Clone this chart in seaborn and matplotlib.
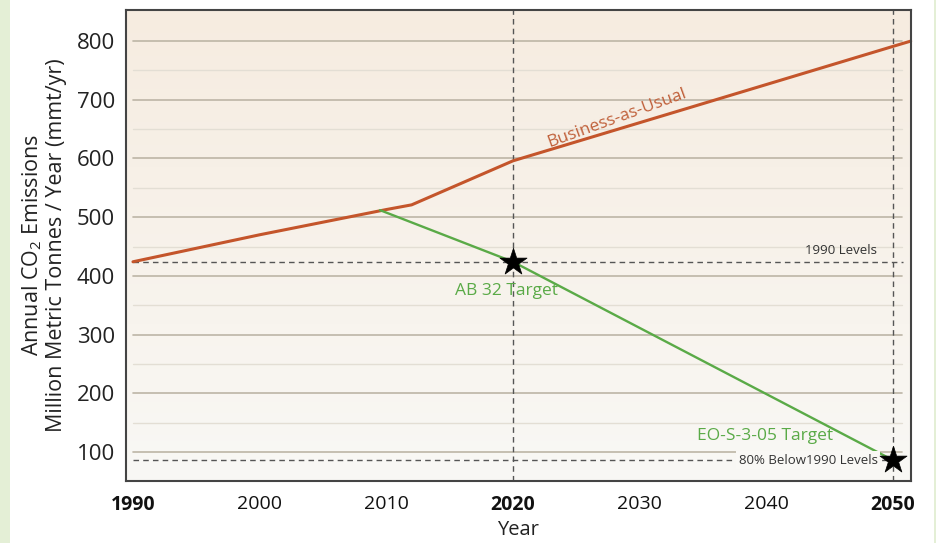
import numpy as np
import pandas as pd
import matplotlib
matplotlib.use("Agg")
import matplotlib.pyplot as plt
import matplotlib.patches as mpatches
import seaborn as sns

# ---- data ----
bau_years = [1990, 2000, 2010, 2012, 2020, 2050, 2051.4]
bau_values = [424, 470, 513, 521, 596, 791, 800]
target_years = [2009.5, 2020, 2050]
target_values = [512, 424, 86]
star_years = [2020, 2050]
star_values = [424, 86]
level_1990 = 424
level_80_below = 86
x_ticks = [1990, 2000, 2010, 2020, 2030, 2040, 2050]
bold_ticks = [1990, 2020, 2050]
y_ticks = [100, 200, 300, 400, 500, 600, 700, 800]
y_minor = [150, 250, 350, 450, 550, 650, 750]

sns.set_theme(style="white")
plt.rcParams['font.family'] = ['Open Sans', 'DejaVu Sans']
plt.rcParams['mathtext.fontset'] = 'custom'
plt.rcParams['mathtext.rm'] = 'Open Sans'

fig = plt.figure(figsize=(9.37, 5.43), dpi=100)
fig.patch.set_facecolor('white')
# green border strips
fig.patches.append(mpatches.Rectangle((0, 0), 10/937, 1, transform=fig.transFigure,
                                      facecolor='#e4efd6', edgecolor='none', zorder=0))
fig.patches.append(mpatches.Rectangle((934/937, 0), 2/937, 1, transform=fig.transFigure,
                                      facecolor='#e4efd6', edgecolor='none', zorder=0))

ax = fig.add_axes([126/937, 1 - 480.7/543, (910.7 - 126)/937, (480.7 - 10)/543])
ax.set_xlim(1989.45, 2051.4)
ax.set_ylim(51, 853)

# gradient background
top = np.array([246, 236, 224]) / 255
bot = np.array([249, 248, 245]) / 255
t = np.linspace(0, 1, 256)[:, None]
grad = (top[None, :] * (1 - t) + bot[None, :] * t)[:, None, :]
ax.imshow(grad, extent=[0, 1, 0, 1], transform=ax.transAxes, aspect='auto', zorder=0)

# grid lines
for v in y_minor:
    ax.axhline(v, xmin=0.009, xmax=0.9885, color='#e3ded4', lw=1.0, zorder=1)
for v in y_ticks:
    ax.axhline(v, xmin=0.009, xmax=0.9885, color='#bdb5a6', lw=1.2, zorder=1)

# dashed reference lines
dash_kw = dict(color='#555555', lw=1.0, dashes=(4, 3), zorder=2)
ax.axhline(level_1990, xmin=0.009, xmax=0.99, **dash_kw)
ax.axhline(level_80_below, xmin=0.009, xmax=0.975, **dash_kw)
ax.axvline(2020, **dash_kw)
ax.axvline(2050, **dash_kw)

bau = pd.DataFrame({'year': bau_years, 'value': bau_values})
tgt = pd.DataFrame({'year': target_years, 'value': target_values})
stars = pd.DataFrame({'year': star_years, 'value': star_values})

sns.lineplot(data=bau, x='year', y='value', ax=ax, color='#c4552b', lw=2.2,
             sort=False, estimator=None, zorder=4, clip_on=False)
sns.lineplot(data=tgt, x='year', y='value', ax=ax, color='#5aaa47', lw=1.7,
             sort=False, estimator=None, zorder=4)
sns.scatterplot(data=stars, x='year', y='value', ax=ax, marker='*', s=420,
                color='black', edgecolor='black', linewidth=0.5, zorder=6, clip_on=False)

# annotations
ax.text(2028.2, 668, 'Business-as-Usual', color='#c0603a', fontsize=12.5,
        rotation=20, ha='center', va='center', zorder=5)
ax.text(2019.5, 375, 'AB 32 Target', color='#5aaa47', fontsize=12.5,
        ha='center', va='center', zorder=5)
ax.text(2039.9, 128, 'EO-S-3-05 Target', color='#5aaa47', fontsize=12.5,
        ha='center', va='center', zorder=5)
ax.text(2045.9, 443, '1990 Levels', color='#333333', fontsize=9.5,
        ha='center', va='center', zorder=5)
ax.text(2043.3, level_80_below, '80% Below1990 Levels', color='#333333', fontsize=9.5,
        ha='center', va='center', zorder=5,
        bbox=dict(boxstyle='square,pad=0.2', facecolor='#f9f8f5', edgecolor='none'))

# ticks
ax.set_xticks(x_ticks)
ax.set_xticklabels([str(v) for v in x_ticks])
for lbl, v in zip(ax.get_xticklabels(), x_ticks):
    lbl.set_fontweight('bold' if v in bold_ticks else 'normal')
    lbl.set_fontsize(14)
    lbl.set_color('#111111')
ax.set_yticks(y_ticks)
ax.set_yticklabels([str(v) for v in y_ticks], fontsize=16, color='#222222')
ax.tick_params(axis='y', length=0, pad=8)
ax.tick_params(axis='x', length=0, pad=10)

ax.set_xlabel('Year', fontsize=14.5, color='#222222', labelpad=4)
ax.set_ylabel('Annual CO$_\\mathregular{2}$ Emissions\nMillion Metric Tonnes / Year (mmt/yr)',
              fontsize=15.5, color='#222222', labelpad=7, linespacing=1.1)

for sp in ax.spines.values():
    sp.set_visible(True)
    sp.set_color('#444444')
    sp.set_linewidth(1.5)
    sp.set_zorder(7)

fig.savefig('out.png', dpi=100)
